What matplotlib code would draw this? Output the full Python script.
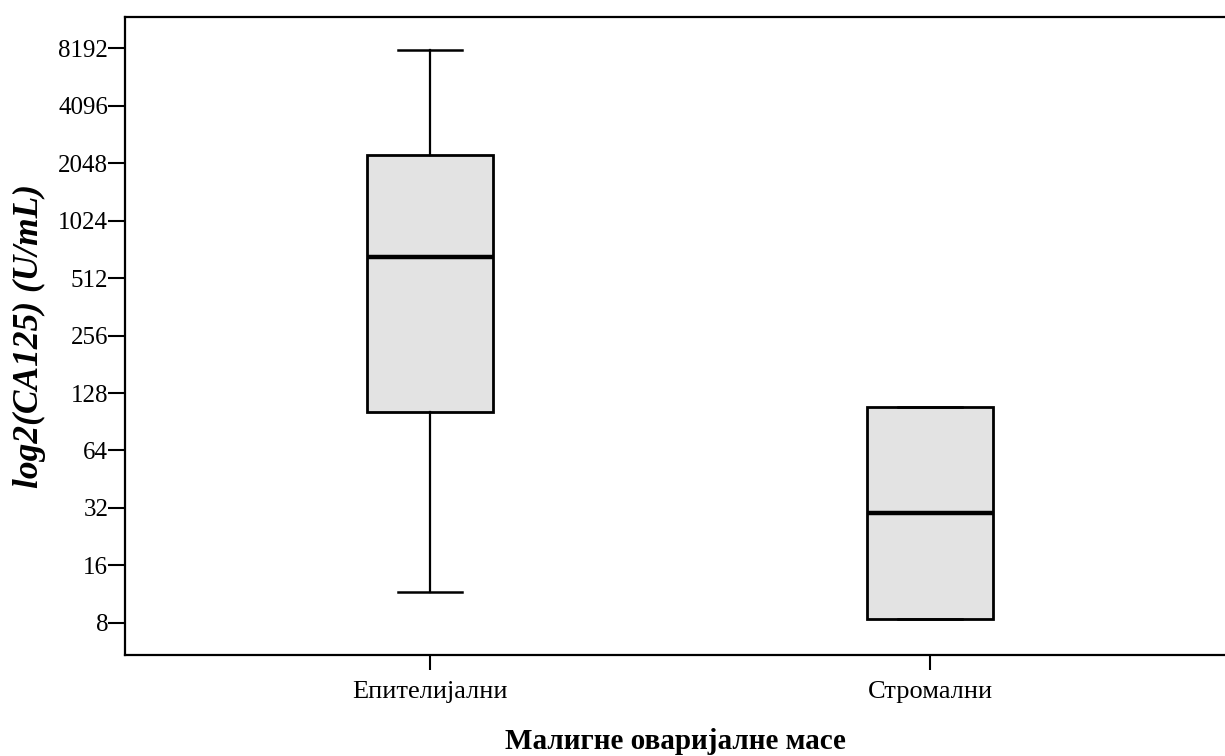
import matplotlib
matplotlib.use('Agg')
from matplotlib import pyplot as plt, ticker

# podaci procitani sa slike (CA125, U/mL)
kategorije = ['Епителијални', 'Стромални']
donji_brk = [11.6, 8.4]
q1 = [102, 8.4]
medijana = [660, 30.1]
q3 = [2255, 108]
gornji_brk = [8050, 108]
y_tikovi = [8, 16, 32, 64, 128, 256, 512, 1024, 2048, 4096, 8192]

plt.rcParams['font.family'] = ['Liberation Serif', 'DejaVu Serif']

stats = []
for i in range(len(kategorije)):
    stats.append({'label': kategorije[i], 'whislo': donji_brk[i], 'q1': q1[i],
                  'med': medijana[i], 'q3': q3[i], 'whishi': gornji_brk[i], 'fliers': []})

fig = plt.figure(figsize=(12.25, 7.56), dpi=100)
ax = fig.add_axes([0.102, 0.1336, 0.898, 0.8439])

ax.bxp(stats, positions=[1, 2], widths=0.252, patch_artist=True, showfliers=False,
       showcaps=True, capwidths=0.128,
       boxprops=dict(facecolor='#e3e3e3', edgecolor='black', linewidth=2),
       medianprops=dict(color='black', linewidth=3.2),
       whiskerprops=dict(color='black', linewidth=1.6),
       capprops=dict(color='black', linewidth=1.8))

ax.set_yscale('log', base=2)
ax.set_ylim(2 ** 2.443, 2 ** 13.54)
ax.set_xlim(0.39, 2.59)
ax.yaxis.set_major_locator(ticker.FixedLocator(y_tikovi))
ax.yaxis.set_minor_locator(ticker.NullLocator())
ax.set_yticklabels([str(v) for v in y_tikovi])
ax.set_xticks([1, 2])
ax.set_xticklabels(kategorije)

ax.spines['right'].set_visible(False)
for s in ['left', 'bottom', 'top']:
    ax.spines[s].set_linewidth(1.6)
ax.tick_params(axis='y', length=12, width=1.5, labelsize=18, pad=0)
ax.tick_params(axis='x', length=11, width=1.5, labelsize=19, pad=8)

ax.set_ylabel('log2(CA125) (U/mL)', fontsize=25.5, fontweight='bold', fontstyle='italic', labelpad=9)
ax.set_xlabel('Малигне оваријалне масе', fontsize=21, fontweight='bold', labelpad=18)

plt.savefig('out.png', dpi=100)
